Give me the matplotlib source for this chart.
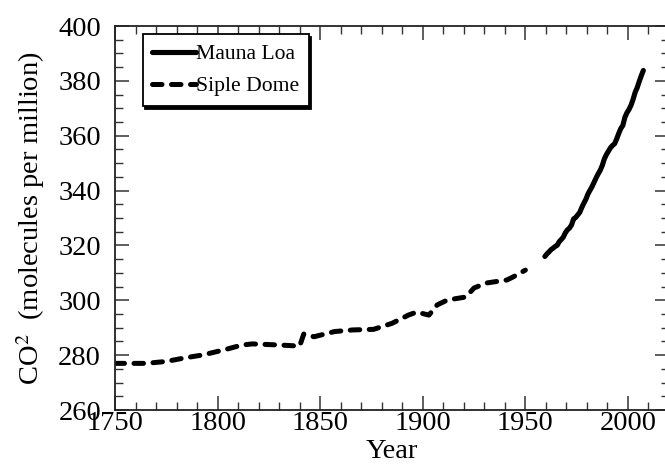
import matplotlib
matplotlib.use("Agg")
import matplotlib.pyplot as plt
from matplotlib.ticker import MultipleLocator

# Siple Dome ice core record
siple_years = [1750, 1765, 1775, 1784, 1793, 1803, 1812, 1817, 1830, 1840,
               1842, 1847, 1857, 1866, 1876, 1885, 1893, 1897, 1903, 1907,
               1912, 1921, 1925, 1931, 1941, 1944, 1950]
siple_co2 = [277.0, 277.0, 277.7, 279.0, 280.1, 281.9, 283.7, 284.1, 283.7, 283.3,
             287.7, 286.7, 288.6, 289.2, 289.4, 291.6, 294.6, 295.7, 294.6, 298.3,
             300.1, 301.2, 304.5, 306.3, 307.4, 308.5, 311.0]

# Mauna Loa annual means, plotted at mid-year
mlo_years = list(range(1959, 2008))
mlo_co2 = [315.97, 316.91, 317.64, 318.45, 318.99, 319.62, 320.04, 321.38, 322.16, 323.04,
           324.62, 325.68, 326.32, 327.45, 329.68, 330.18, 331.11, 332.04, 333.83, 335.40,
           336.84, 338.75, 340.11, 341.45, 343.05, 344.65, 346.12, 347.42, 349.19, 351.57,
           353.12, 354.39, 355.61, 356.45, 357.10, 358.83, 360.82, 362.61, 363.73, 366.70,
           368.38, 369.55, 371.14, 373.28, 375.80, 377.52, 379.80, 381.90, 383.79]

plt.rcParams['font.family'] = ['Liberation Serif', 'DejaVu Serif']
plt.rcParams['mathtext.fontset'] = 'stix'

fig = plt.figure(figsize=(6.65, 4.7), dpi=100)
ax = fig.add_axes([115 / 665, 60 / 470, 554 / 665, 384 / 470])

ax.plot([y + 0.5 for y in mlo_years], mlo_co2, color='black', lw=3.7,
        solid_capstyle='round', solid_joinstyle='round', label='Mauna Loa')
dash, = ax.plot(siple_years, siple_co2, color='black', lw=3.6,
                dash_capstyle='round', label='Siple Dome')
dash.set_dashes((1.9, 1.9))

ax.set_xlim(1750, 2020)
ax.set_ylim(260, 400)
ax.xaxis.set_major_locator(MultipleLocator(50))
ax.xaxis.set_minor_locator(MultipleLocator(10))
ax.yaxis.set_major_locator(MultipleLocator(20))
ax.yaxis.set_minor_locator(MultipleLocator(5))

ax.tick_params(which='both', direction='in', top=True, right=True,
               labelsize=20.5, color='#333333')
ax.tick_params(which='major', length=10, width=1.1)
ax.tick_params(which='minor', length=6, width=1.0)
ax.tick_params(axis='x', which='major', pad=1)
ax.tick_params(axis='y', which='major', pad=10)
for s in ax.spines.values():
    s.set_linewidth(1.3)
    s.set_color('#222222')

ax.set_xlabel('Year', fontsize=20.5, labelpad=2)
ax.set_ylabel('CO$^2$  (molecules per million)', fontsize=20.5, labelpad=8)

leg = ax.legend(loc='upper left', bbox_to_anchor=(0.05, 0.978), fontsize=15.6,
                frameon=True, fancybox=False, handlelength=2.0,
                handletextpad=0.0, borderpad=0.45, labelspacing=0.55,
                borderaxespad=0, shadow={'color': 'black', 'alpha': 1})
leg.get_frame().set_edgecolor('black')
leg.get_frame().set_linewidth(1.3)
leg.get_frame().set_alpha(1)

fig.savefig('out.png', dpi=100)
